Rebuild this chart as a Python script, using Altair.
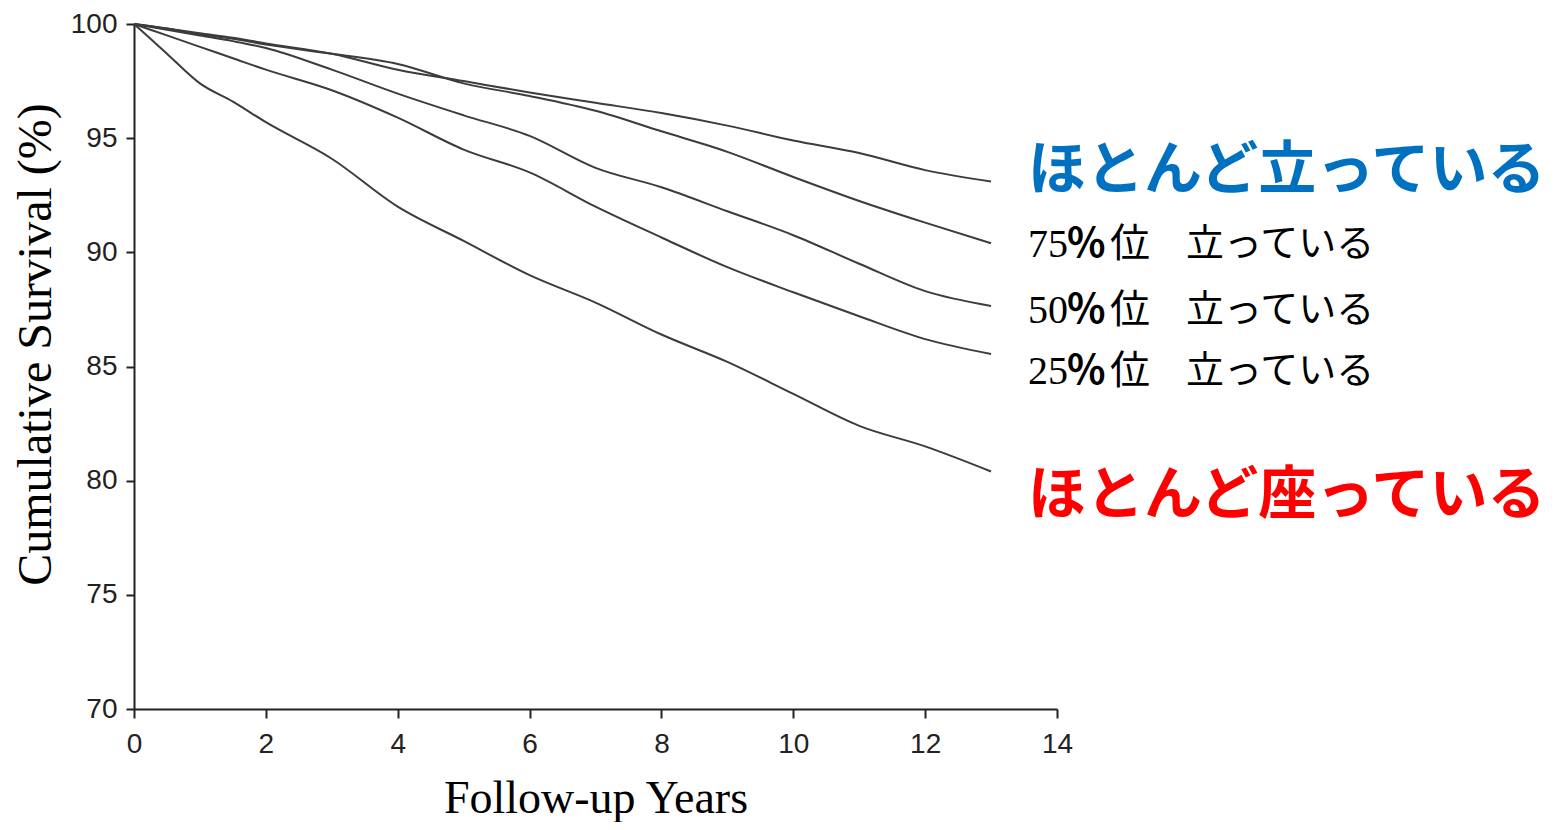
import altair as alt
import pandas as pd

# ---- data ----
years = [0, 0.5, 1, 1.5, 2, 3, 4, 5, 6, 7, 8, 9, 10, 11, 12, 13]
mostly_standing = [100, 99.8, 99.6, 99.4, 99.15, 98.7, 98.0, 97.5, 97.0, 96.55, 96.1, 95.55, 94.9, 94.35, 93.6, 93.1]
p75_standing    = [100, 99.8, 99.55, 99.35, 99.1, 98.7, 98.25, 97.4, 96.85, 96.2, 95.3, 94.4, 93.3, 92.25, 91.3, 90.4]
p50_standing    = [100, 99.75, 99.5, 99.25, 98.95, 98.0, 96.95, 96.0, 95.1, 93.7, 92.85, 91.8, 90.75, 89.5, 88.3, 87.65]
p25_standing    = [100, 99.5, 99.0, 98.5, 98.0, 97.1, 95.9, 94.5, 93.5, 92.0, 90.65, 89.35, 88.25, 87.2, 86.2, 85.55]
mostly_sitting  = [100, 98.7, 97.4, 96.6, 95.7, 94.1, 92.0, 90.5, 89.0, 87.8, 86.4, 85.2, 83.8, 82.4, 81.5, 80.4]

series_names = ["mostly_standing", "p75", "p50", "p25", "mostly_sitting"]
series_vals = [mostly_standing, p75_standing, p50_standing, p25_standing, mostly_sitting]

x_ticks = [0, 2, 4, 6, 8, 10, 12, 14]
y_ticks = [70, 75, 80, 85, 90, 95, 100]

# annotation labels (anchor year and survival value)
big_labels = ["ほとんど立っている", "ほとんど座っている"]
big_label_y = [93.5, 79.3]
big_label_colors = ["#0070C0", "#FF0000"]

pct_labels = ["75", "50", "25"]
pct_sign = ["%", "%", "%"]
pct_rank = ["位", "位", "位"]
pct_rest = ["立っている", "立っている", "立っている"]
pct_label_y = [90.3, 87.45, 84.75]
label_year = 13

# ---- build tables ----
rows = []
for name, vals in zip(series_names, series_vals):
    for t, v in zip(years, vals):
        rows.append({"series": name, "year": t, "survival": v})
df = pd.DataFrame(rows)

big_df = pd.DataFrame({"text": big_labels, "y": big_label_y, "color": big_label_colors,
                       "year": [label_year] * len(big_labels)})
pct_df = pd.DataFrame({"num": pct_labels, "sign": pct_sign, "rank": pct_rank, "rest": pct_rest,
                       "y": pct_label_y, "year": [label_year] * len(pct_labels)})

x_scale = alt.Scale(domain=[0, 14], nice=False)
y_scale = alt.Scale(domain=[70, 100], nice=False, zero=False)

lines = alt.Chart(df).mark_line(color="#3c3c3c", strokeWidth=2, interpolate="monotone").encode(
    x=alt.X("year:Q", scale=x_scale,
            axis=alt.Axis(values=x_ticks, format="d", title="Follow-up Years", grid=False,
                          labelFont="Liberation Sans", labelFontSize=28, labelColor="#222",
                          labelPadding=12, labelFlush=False,
                          tickSize=9, tickWidth=2, tickColor="#222",
                          domainColor="#222", domainWidth=2,
                          titleFont="Liberation Serif", titleFontSize=46, titleFontWeight="normal",
                          titleColor="black", titleBaseline="alphabetic", titleY=103)),
    y=alt.Y("survival:Q", scale=y_scale,
            axis=alt.Axis(values=y_ticks, format="d", title="Cumulative Survival (%)", grid=False,
                          labelFont="Liberation Sans", labelFontSize=28, labelColor="#222",
                          labelPadding=9,
                          tickSize=8, tickWidth=2, tickColor="#222",
                          domainColor="#222", domainWidth=2,
                          titleFont="Liberation Serif", titleFontSize=48, titleFontWeight="normal",
                          titleColor="black", titleAngle=270, titleAlign="center",
                          titleBaseline="bottom", titleX=-74, titleY=320)),
    detail="series:N",
)

big_text = alt.Chart(big_df).mark_text(
    align="left", baseline="middle", dx=37, fontSize=58,
    font="Noto Sans CJK JP", fontWeight="bold"
).encode(
    x=alt.X("year:Q", scale=x_scale),
    y=alt.Y("y:Q", scale=y_scale),
    text="text:N",
    color=alt.Color("color:N", scale=None),
)

num_text = alt.Chart(pct_df).mark_text(
    align="left", baseline="middle", dx=37, fontSize=40,
    font="Liberation Serif", color="black"
).encode(
    x=alt.X("year:Q", scale=x_scale),
    y=alt.Y("y:Q", scale=y_scale),
    text="num:N",
)

sign_text = alt.Chart(pct_df).mark_text(
    align="left", baseline="middle", dx=76, fontSize=40,
    font="Noto Sans CJK JP", fontWeight="bold", color="black"
).encode(
    x=alt.X("year:Q", scale=x_scale),
    y=alt.Y("y:Q", scale=y_scale),
    text="sign:N",
)

rank_text = alt.Chart(pct_df).mark_text(
    align="left", baseline="middle", dx=119, fontSize=40,
    font="Noto Sans CJK JP", color="black"
).encode(
    x=alt.X("year:Q", scale=x_scale),
    y=alt.Y("y:Q", scale=y_scale),
    text="rank:N",
)

rest_text = alt.Chart(pct_df).mark_text(
    align="left", baseline="middle", dx=195, fontSize=38,
    font="Noto Sans CJK JP", color="black"
).encode(
    x=alt.X("year:Q", scale=x_scale),
    y=alt.Y("y:Q", scale=y_scale),
    text="rest:N",
)

chart = alt.layer(lines, big_text, num_text, sign_text, rank_text, rest_text).properties(
    width=923, height=685,
    autosize=alt.AutoSizeParams(type="none"),
    padding={"left": 126, "top": 16, "right": 490, "bottom": 113},
).configure(background="white").configure_view(strokeWidth=0, stroke=None)

chart.save("out.html", embed_options={"renderer": "svg", "actions": False})
